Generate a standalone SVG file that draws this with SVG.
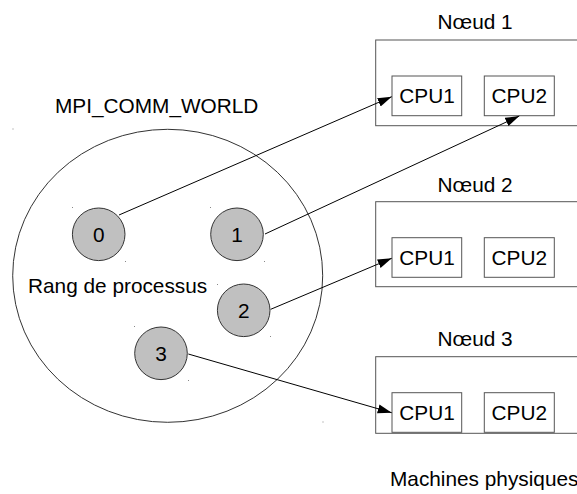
<svg xmlns="http://www.w3.org/2000/svg" width="577" height="494" viewBox="0 0 577 494">
<style>
text{font-family:"Liberation Sans",Arial,sans-serif;font-size:20.8px;fill:#000}
.box{fill:#fff;stroke:#555;stroke-width:1}
.proc{fill:#c0c0c0;stroke:#333;stroke-width:1}
.world{fill:#fff;stroke:#333;stroke-width:1}
.conn{stroke:#000;stroke-width:1;fill:none;marker-end:url(#arr)}
.dot{fill:#888}
.mid{text-anchor:middle}
</style>
<defs>
<marker id="arr" markerUnits="userSpaceOnUse" markerWidth="15" markerHeight="10" refX="14" refY="5" orient="auto">
<path d="M0,0.5 L14,5 L0,9.5 z" fill="#000"/>
</marker>
</defs>
<rect width="577" height="494" fill="#fff"/>
<g id="world">
<ellipse class="world" cx="167.7" cy="275.8" rx="155" ry="146.5"/>
<text x="55" y="113">MPI_COMM_WORLD</text>
<text x="28" y="293">Rang de processus</text>
<rect class="dot" x="12.5" y="128.5" width="1" height="1"/>
<rect class="dot" x="322.5" y="421.5" width="1" height="1"/>
</g>
<g id="p0">
<circle class="proc" cx="98.7" cy="234.3" r="26.3"/>
<text class="mid" x="98.7" y="241.7">0</text>
<rect class="dot" x="72" y="207" width="1" height="1"/>
<rect class="dot" x="125" y="261" width="1" height="1"/>
</g>
<g id="p1">
<circle class="proc" cx="237" cy="234.3" r="26.3"/>
<text class="mid" x="237" y="241.7">1</text>
<rect class="dot" x="210" y="207" width="1" height="1"/>
<rect class="dot" x="264" y="261" width="1" height="1"/>
</g>
<g id="p2">
<circle class="proc" cx="243.7" cy="310.3" r="26.3"/>
<text class="mid" x="243.7" y="317.7">2</text>
<rect class="dot" x="217" y="284" width="1" height="1"/>
<rect class="dot" x="270" y="336" width="1" height="1"/>
</g>
<g id="p3">
<circle class="proc" cx="161" cy="353.3" r="26.3"/>
<text class="mid" x="161" y="360.7">3</text>
<rect class="dot" x="134" y="326" width="1" height="1"/>
<rect class="dot" x="188" y="380" width="1" height="1"/>
</g>
<g id="node1">
<text x="437.5" y="29.3">Nœud 1</text>
<rect class="box" x="375.7" y="40" width="230" height="85.7"/>
<rect class="box" x="392" y="76" width="69.7" height="39.7"/>
<text x="399.3" y="102.7">CPU1</text>
<rect class="box" x="484.3" y="76" width="70" height="39.7"/>
<text x="491.5" y="102.7">CPU2</text>
</g>
<g id="node2">
<text x="437.5" y="191.7">Nœud 2</text>
<rect class="box" x="375.7" y="201.7" width="230" height="85"/>
<rect class="box" x="392" y="237.7" width="69.7" height="39.6"/>
<text x="399.3" y="265">CPU1</text>
<rect class="box" x="484.3" y="237.7" width="70" height="39.6"/>
<text x="491.5" y="265">CPU2</text>
</g>
<g id="node3">
<text x="437.5" y="346">Nœud 3</text>
<rect class="box" x="375.7" y="356.7" width="230" height="76.6"/>
<rect class="box" x="392" y="392.7" width="69.7" height="39.6"/>
<text x="399.3" y="420">CPU1</text>
<rect class="box" x="484.3" y="392.7" width="70" height="39.6"/>
<text x="491.5" y="420">CPU2</text>
</g>
<g id="label">
<text x="390" y="486">Machines physiques</text>
</g>
<g id="connectors">
<line class="conn" x1="119" y1="215" x2="391.7" y2="96.7"/>
<line class="conn" x1="265" y1="234" x2="519.3" y2="116"/>
<line class="conn" x1="270.7" y1="309.3" x2="391.7" y2="258.3"/>
<line class="conn" x1="188.3" y1="354" x2="391.7" y2="412.7"/>
</g>
</svg>
